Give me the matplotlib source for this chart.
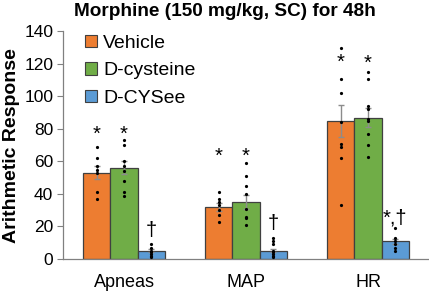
import numpy as np
import matplotlib.pyplot as plt
from matplotlib.patches import Patch

plt.rcParams['font.family'] = ['Liberation Sans', 'DejaVu Sans']

# Data
categories = ['Apneas', 'MAP', 'HR']
groups = ['Vehicle', 'D-cysteine', 'D-CYSee']
colors = ['#ED7D31', '#70AD47', '#5B9BD5']

means = [[53, 32, 85],
         [56, 35, 87],
         [5, 5, 11]]
sems = [[4, 2.5, 10],
        [4, 4.5, 6],
        [1, 1, 1.5]]

# individual animals
dots = [
    [[69, 62, 57, 55, 53, 41, 37],
     [41, 37, 35, 33, 30, 27, 23],
     [130, 111, 102, 84, 71, 69, 62, 33]],
    [[73, 70, 60, 57, 54, 48, 41, 39],
     [59, 51, 45, 40, 31, 26, 25, 21],
     [115, 111, 94, 92, 86, 85, 77, 70, 63]],
    [[9, 7, 5, 4, 3, 2, 1],
     [13, 11, 9, 5, 4, 3, 2, 1],
     [19, 13, 11, 9, 7, 5]],
]

# significance marks (group, category, text, height)
marks = [(0, 0, '*', 77), (1, 0, '*', 77), (2, 0, '\u2020', 17.5),
         (0, 1, '*', 63), (1, 1, '*', 63), (2, 1, '\u2020', 22),
         (0, 2, '*', 121), (1, 2, '*', 120.5), (2, 2, '*,\u2020', 25)]

fig = plt.figure(figsize=(4.29, 2.91), dpi=100)
ax = fig.add_axes([0.147, 0.110, 0.853, 0.782])

x = np.arange(len(categories))
w = 0.224
for g in range(3):
    xs = x + (g - 1) * w
    ax.bar(xs, means[g], w, color=colors[g], edgecolor='#404040', linewidth=0.9, zorder=2)
    ax.errorbar(xs, means[g], yerr=sems[g], fmt='none', ecolor='#8c8c8c',
                elinewidth=1, capsize=2.5, capthick=1, zorder=3)
    for c in range(3):
        vals = dots[g][c]
        ax.plot([xs[c]] * len(vals), vals, 'o', color='black', markersize=2.3,
                markeredgewidth=0, zorder=4)

for g, c, txt, h in marks:
    ax.text(x[c] + (g - 1) * w, h, txt, ha='center', va='center', fontsize=14.5, zorder=5)

ax.set_xlim(-0.5, 2.5)
ax.set_ylim(0, 140)
ax.set_yticks(range(0, 141, 20))
ax.set_xticks(x)
ax.set_xticklabels(categories, fontsize=13)
ax.tick_params(axis='x', length=0, pad=11)
ax.tick_params(axis='y', length=4, width=0.8, color='#808080', labelsize=12.5, pad=3)
for s in ['top', 'right']:
    ax.spines[s].set_visible(False)
for s in ['left', 'bottom']:
    ax.spines[s].set_color('#808080')
    ax.spines[s].set_linewidth(0.9)

ax.set_ylabel('Arithmetic Response', fontsize=14, fontweight='bold', labelpad=3)
fig.text(0.525, 0.962, 'Morphine (150 mg/kg, SC) for 48h', ha='center', va='center',
         fontsize=13.7, fontweight='bold')

handles = [Patch(facecolor=colors[g], edgecolor='#404040', linewidth=0.8) for g in range(3)]
ax.legend(handles, groups, loc='upper left', bbox_to_anchor=(0.04, 1.02), frameon=False,
          fontsize=14, handlelength=0.6, handleheight=0.6, handletextpad=0.3,
          labelspacing=0.55, borderaxespad=0)

fig.savefig('out.png', dpi=100)
